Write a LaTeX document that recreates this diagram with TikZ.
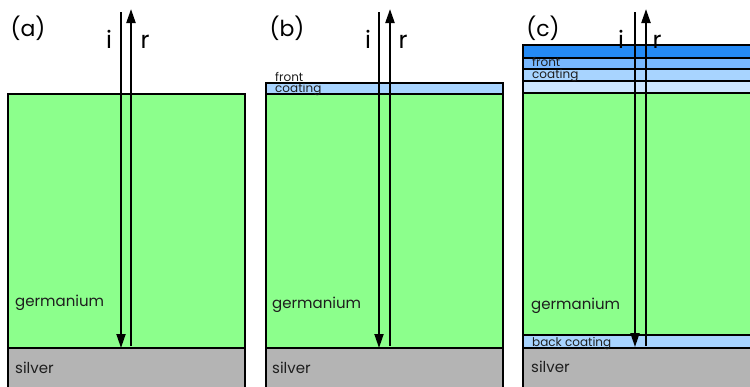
\documentclass[tikz,border=0pt]{standalone}
\usepackage{fontspec}
\setmainfont{Poppins}
\usetikzlibrary{arrows.meta}
\definecolor{ge}{RGB}{140,255,140}
\definecolor{ag}{RGB}{180,180,180}
\definecolor{bl1}{RGB}{36,138,245}
\definecolor{bl2}{RGB}{120,184,255}
\definecolor{bl3}{RGB}{168,212,255}
\definecolor{bl4}{RGB}{204,230,255}
\definecolor{txt}{RGB}{30,30,30}
\tikzset{
  layer/.style={draw=black, line width=2pt},
  ray/.style={draw=black, line width=1.8pt, -{Triangle[width=9pt,length=14pt]}},
  rayup/.style={ray, line width=2.2pt},
  lbl/.style={inner sep=0pt, anchor=base west, text=txt, font=\fontsize{15}{15}\selectfont},
  small/.style={inner sep=0pt, anchor=base west, text=txt, font=\fontsize{12}{12}\selectfont},
  panel/.style={inner sep=0pt, anchor=base, font=\fontsize{22}{22}\selectfont},
  ri/.style={inner sep=0pt, anchor=base, font=\fontsize{24}{24}\selectfont}
}
\begin{document}
\begin{tikzpicture}[x=1pt,y=-1pt]
\useasboundingbox (0,0) rectangle (750,386);
\begin{scope}
\clip (0,0) rectangle (750,386);
% panel (a)
\filldraw[layer, fill=ag] (8,348) rectangle (245,400);
\filldraw[layer, fill=ge] (8,94) rectangle (245,348);
% panel (b)
\filldraw[layer, fill=ag] (266,348) rectangle (503,400);
\filldraw[layer, fill=ge] (266,94) rectangle (503,348);
\filldraw[layer, fill=bl3] (266,83) rectangle (503,94);
% panel (c)
\filldraw[layer, fill=ag] (523,348) rectangle (770,400);
\filldraw[layer, fill=bl3] (523,335) rectangle (770,348);
\filldraw[layer, fill=ge] (523,93) rectangle (770,335);
\filldraw[layer, fill=bl4] (523,81) rectangle (770,93);
\filldraw[layer, fill=bl3] (523,69) rectangle (770,81);
\filldraw[layer, fill=bl2] (523,57.5) rectangle (770,69);
\filldraw[layer, fill=bl1] (523,45) rectangle (770,57.5);
\end{scope}
% labels
\node[panel] (la) at (28,36) {(a)};
\node[panel] (lb) at (287,36) {(b)};
\node[panel] (lc) at (543,36) {(c)};
\node[ri] (ia) at (109,48) {i};
\node[ri] (ra) at (145,48) {r};
\node[ri] (ib) at (368,48) {i};
\node[ri] (rb) at (403,48) {r};
\node[ri] (ic) at (621,48) {i};
\node[ri] (rc) at (657,48) {r};
\node[lbl] (ga) at (15,306) {germanium};
\node[lbl] (sa) at (15,373) {silver};
\node[lbl] (gb) at (272,308) {germanium};
\node[lbl] (sb) at (272,373) {silver};
\node[lbl] (gc) at (531,309) {germanium};
\node[lbl] (sc) at (531,372) {silver};
\node[small] (fb) at (275,81) {front};
\node[small] (cb) at (275,92) {coating};
\node[small] (fc) at (532,66) {front};
\node[small] (cc) at (532,78) {coating};
\node[small] (bc) at (532,346) {back coating};
% rays
\coordinate (ita) at (121,12); \coordinate (iba) at (121,348);
\coordinate (rba) at (131,346); \coordinate (rta) at (131,9);
\coordinate (itb) at (379,12); \coordinate (ibb) at (379,348);
\coordinate (rbb) at (390,346); \coordinate (rtb) at (390,9);
\coordinate (itc) at (635,12); \coordinate (ibc) at (635,347);
\coordinate (rbc) at (646,346); \coordinate (rtc) at (646,9);
\draw[ray] (ita) -- (iba);
\draw[rayup] (rba) -- (rta);
\draw[ray] (itb) -- (ibb);
\draw[rayup] (rbb) -- (rtb);
\draw[ray] (itc) -- (ibc);
\draw[rayup] (rbc) -- (rtc);
\end{tikzpicture}
\end{document}
